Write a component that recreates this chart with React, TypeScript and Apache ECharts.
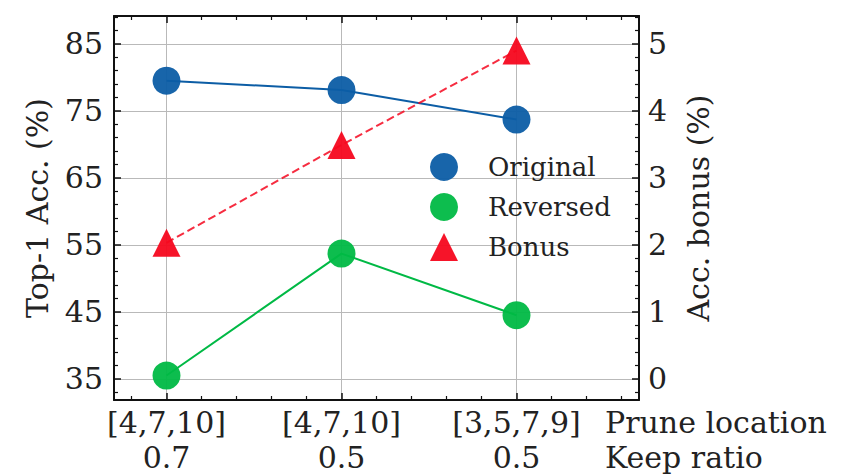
import React, { useEffect, useRef } from "react";
import * as echarts from "echarts";

const positions = [0, 1, 2];
const pruneLocations = ["[4,7,10]", "[4,7,10]", "[3,5,7,9]"];
const keepRatios = ["0.7", "0.5", "0.5"];
const original = [79.5, 78.1, 73.7];
const reversed = [35.5, 53.7, 44.5];
const bonus = [2.03, 3.49, 4.9];
const leftTicks = [35, 45, 55, 65, 75, 85];
const leftMinor = [33, 37, 39, 41, 43, 47, 49, 51, 53, 57, 59, 61, 63, 67, 69, 71, 73, 77, 79, 81, 83, 87, 89];
const rightTicks = [0, 1, 2, 3, 4, 5];
const rightMinor = [-0.2, 0.2, 0.4, 0.6, 0.8, 1.2, 1.4, 1.6, 1.8, 2.2, 2.4, 2.6, 2.8, 3.2, 3.4, 3.6, 3.8, 4.2, 4.4, 4.6, 4.8, 5.2, 5.4];
const xMinor = [-0.2, 0.2, 0.4, 0.6, 0.8, 1.2, 1.4, 1.6, 1.8, 2.2, 2.4, 2.6];

const FONT = "DejaVu Serif";
const INK = "#222222";
const FRAME = "#111111";
const BLUE = "#0C5DA5";
const GREEN = "#00B945";
const RED = "#F5071E";
const FS = 30;

export default function App() {
  const ref = useRef<HTMLDivElement>(null);
  useEffect(() => {
    if (!ref.current) return;
    const chart = echarts.init(ref.current, undefined, { renderer: "svg" });
    const xr = { min: -0.3, max: 2.7 };
    const lr = { min: 31.85, max: 89.15 };
    const rr = { min: -0.315, max: 5.415 };
    const frameLine = { show: true, onZero: false, lineStyle: { color: FRAME, width: 2 } };
    const hiddenLine = { show: false, onZero: false };
    const majorTick = (vals: number[]) => ({ show: true, inside: true, length: 7, customValues: vals, lineStyle: { color: FRAME, width: 1.5 } });
    const minorTick = (vals: number[]) => ({ show: true, inside: true, length: 4, customValues: vals, lineStyle: { color: FRAME, width: 1.2 } });
    const grid = { color: "#b9b9b9", width: 1, type: "solid" };

    chart.setOption({
      animation: false,
      backgroundColor: "#ffffff",
      textStyle: { fontFamily: FONT },
      grid: { left: 114, top: 16, width: 525, height: 384, containLabel: false },
      legend: {
        orient: "vertical",
        left: 425,
        top: 148,
        itemWidth: 28,
        itemHeight: 28,
        itemGap: 12,
        textStyle: { fontFamily: FONT, fontSize: 26, color: INK, padding: [0, 0, 0, 25] },
        data: [
          { name: "Original", icon: "circle" },
          { name: "Reversed", icon: "circle" },
          { name: "Bonus", icon: "triangle" },
        ],
      },
      xAxis: [
        {
          type: "value", position: "bottom", ...xr,
          axisLine: frameLine,
          axisTick: majorTick(positions),
          splitLine: { show: true, lineStyle: grid },
          axisLabel: {
            customValues: positions,
            margin: 5,
            fontFamily: FONT, fontSize: FS, lineHeight: 35, color: INK,
            formatter: (v: number) => {
              const i = Math.round(v);
              return pruneLocations[i] + "\n" + keepRatios[i];
            },
          },
          name: "Prune location\nKeep ratio",
          nameLocation: "end",
          nameGap: -34,
          nameMoveOverlap: false,
          nameTextStyle: { fontFamily: FONT, fontSize: FS, lineHeight: 35, color: INK, align: "left", verticalAlign: "top", padding: [5, 0, 0, 0] },
        },
        {
          type: "value", position: "top", ...xr,
          axisLine: frameLine, axisTick: majorTick(positions),
          axisLabel: { show: false }, splitLine: { show: false },
        },
        {
          type: "value", position: "bottom", ...xr,
          axisLine: hiddenLine, axisTick: minorTick(xMinor),
          axisLabel: { show: false }, splitLine: { show: false },
        },
        {
          type: "value", position: "top", ...xr,
          axisLine: hiddenLine, axisTick: minorTick(xMinor),
          axisLabel: { show: false }, splitLine: { show: false },
        },
      ],
      yAxis: [
        {
          type: "value", position: "left", ...lr,
          axisLine: frameLine,
          axisTick: majorTick(leftTicks),
          splitLine: { show: true, lineStyle: grid },
          axisLabel: { customValues: leftTicks, margin: 11, fontFamily: FONT, fontSize: FS, color: INK },
          name: "Top-1 Acc. (%)",
          nameLocation: "middle",
          nameRotate: 90,
          nameGap: 62,
          nameMoveOverlap: false,
          nameTextStyle: { fontFamily: FONT, fontSize: FS, color: INK },
        },
        {
          type: "value", position: "right", ...rr,
          axisLine: frameLine,
          axisTick: majorTick(rightTicks),
          splitLine: { show: false },
          axisLabel: { customValues: rightTicks, margin: 9, fontFamily: FONT, fontSize: FS, color: INK },
          name: "Acc. bonus (%)",
          nameLocation: "middle",
          nameRotate: 90,
          nameGap: 44,
          nameMoveOverlap: false,
          nameTextStyle: { fontFamily: FONT, fontSize: FS, color: INK },
        },
        {
          type: "value", position: "left", ...lr,
          axisLine: hiddenLine, axisTick: minorTick(leftMinor),
          axisLabel: { show: false }, splitLine: { show: false },
        },
        {
          type: "value", position: "right", ...rr,
          axisLine: hiddenLine, axisTick: minorTick(rightMinor),
          axisLabel: { show: false }, splitLine: { show: false },
        },
      ],
      series: [
        {
          name: "Original", type: "line", xAxisIndex: 0, yAxisIndex: 0,
          data: positions.map((p, i) => [p, original[i]]),
          symbol: "circle", symbolSize: 28,
          lineStyle: { color: BLUE, width: 2 },
          itemStyle: { color: BLUE, opacity: 0.95 },
        },
        {
          name: "Reversed", type: "line", xAxisIndex: 0, yAxisIndex: 0,
          data: positions.map((p, i) => [p, reversed[i]]),
          symbol: "circle", symbolSize: 28,
          lineStyle: { color: GREEN, width: 2 },
          itemStyle: { color: GREEN, opacity: 0.95 },
        },
        {
          name: "Bonus", type: "line", xAxisIndex: 0, yAxisIndex: 1,
          data: positions.map((p, i) => [p, bonus[i]]),
          symbol: "triangle", symbolSize: [28, 28],
          lineStyle: { color: RED, width: 2, type: [8, 4], opacity: 0.85 },
          itemStyle: { color: RED, opacity: 0.95 },
        },
      ],
    });
    return () => chart.dispose();
  }, []);
  return <div ref={ref} style={{ width: 846, height: 475, position: "absolute", left: 0, top: 0 }} />;
}
